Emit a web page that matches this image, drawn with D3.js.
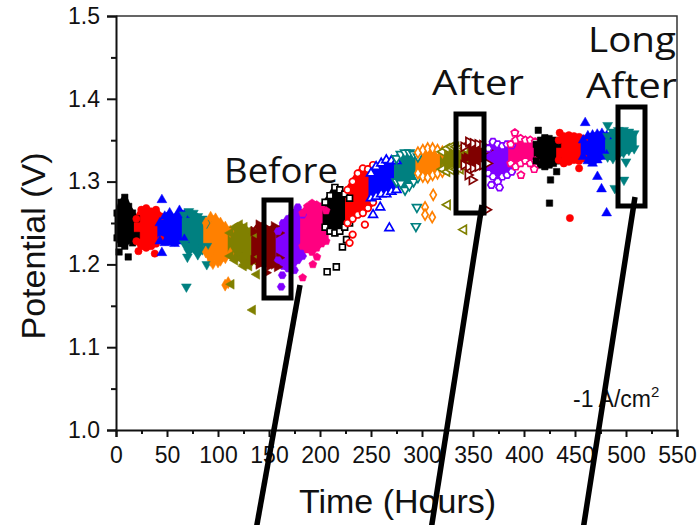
<!DOCTYPE html>
<html>
<head>
<meta charset="utf-8">
<script src="https://cdn.jsdelivr.net/npm/d3@7"></script>
<style>
  html, body { margin: 0; padding: 0; background: #fff; }
  svg { display: block; }
</style>
</head>
<body>
<div id="chart-mount"></div>
<script>
var WIDTH = 697;
var HEIGHT = 525;

// one series per recording segment
var seriesColor = [
  '#000000', '#ff0000', '#0000ff', '#008080', '#ff8000', '#808000', '#800000', '#8000ff', '#ff0080',
  '#000000', '#ff0000', '#0000ff', '#008080', '#ff8000', '#808000', '#800000', '#8000ff', '#ff0080',
  '#000000', '#ff0000', '#0000ff', '#008080'
];
var seriesShape = [
  'square', 'circle', 'up', 'down', 'diamond', 'left', 'right', 'hexagon', 'pentagon',
  'square', 'circle', 'up', 'down', 'diamond', 'left', 'right', 'hexagon', 'pentagon',
  'square', 'circle', 'up', 'down'
];
var seriesHollow = [
  false, false, false, false, false, false, false, false, false,
  true, true, true, true, true, true, true, true, true,
  false, false, false, false
];
var seriesStart = [1, 20, 43, 67, 88, 112, 135, 159, 183, 205, 227, 250, 275, 296, 320, 341, 365, 387, 412, 434, 458, 482];
var seriesEnd = [20, 44, 67, 89, 112, 135, 160, 183, 206, 229, 252, 275, 296, 320, 342, 364, 388, 411, 433, 459, 481, 508];

// upper / lower edge of each cluster at 6 evenly spaced times
var bandHigh = [
  [1.262, 1.275, 1.281, 1.270, 1.262, 1.255],
  [1.255, 1.266, 1.268, 1.264, 1.266, 1.258],
  [1.250, 1.258, 1.262, 1.255, 1.265, 1.260],
  [1.260, 1.264, 1.262, 1.258, 1.255, 1.250],
  [1.250, 1.257, 1.255, 1.250, 1.245, 1.240],
  [1.238, 1.245, 1.248, 1.245, 1.240, 1.238],
  [1.240, 1.248, 1.245, 1.242, 1.246, 1.238],
  [1.240, 1.250, 1.255, 1.262, 1.269, 1.260],
  [1.262, 1.270, 1.274, 1.272, 1.270, 1.265],
  [1.275, 1.283, 1.293, 1.290, 1.285, 1.280],
  [1.290, 1.300, 1.310, 1.316, 1.315, 1.320],
  [1.310, 1.318, 1.322, 1.326, 1.325, 1.325],
  [1.328, 1.333, 1.335, 1.335, 1.333, 1.330],
  [1.335, 1.338, 1.340, 1.340, 1.338, 1.336],
  [1.336, 1.340, 1.342, 1.342, 1.340, 1.340],
  [1.342, 1.348, 1.346, 1.345, 1.344, 1.338],
  [1.340, 1.348, 1.345, 1.343, 1.345, 1.344],
  [1.345, 1.350, 1.352, 1.350, 1.350, 1.348],
  [1.345, 1.350, 1.353, 1.352, 1.350, 1.345],
  [1.350, 1.355, 1.356, 1.355, 1.354, 1.352],
  [1.350, 1.355, 1.356, 1.357, 1.358, 1.355],
  [1.355, 1.360, 1.362, 1.362, 1.360, 1.358]
];
var bandLow = [
  [1.232, 1.225, 1.222, 1.230, 1.226, 1.235],
  [1.228, 1.222, 1.220, 1.222, 1.225, 1.230],
  [1.228, 1.226, 1.227, 1.225, 1.228, 1.230],
  [1.225, 1.215, 1.220, 1.212, 1.218, 1.222],
  [1.215, 1.205, 1.210, 1.205, 1.208, 1.213],
  [1.210, 1.205, 1.208, 1.200, 1.198, 1.205],
  [1.205, 1.200, 1.203, 1.198, 1.200, 1.208],
  [1.205, 1.198, 1.195, 1.200, 1.205, 1.210],
  [1.222, 1.218, 1.215, 1.220, 1.225, 1.228],
  [1.245, 1.240, 1.238, 1.240, 1.245, 1.250],
  [1.250, 1.255, 1.260, 1.262, 1.268, 1.275],
  [1.280, 1.282, 1.285, 1.285, 1.288, 1.290],
  [1.300, 1.298, 1.290, 1.295, 1.300, 1.305],
  [1.310, 1.306, 1.305, 1.308, 1.310, 1.312],
  [1.315, 1.312, 1.314, 1.315, 1.315, 1.318],
  [1.320, 1.318, 1.316, 1.318, 1.320, 1.322],
  [1.310, 1.306, 1.300, 1.306, 1.308, 1.312],
  [1.322, 1.318, 1.322, 1.325, 1.322, 1.325],
  [1.325, 1.320, 1.318, 1.320, 1.322, 1.325],
  [1.326, 1.322, 1.324, 1.326, 1.325, 1.328],
  [1.330, 1.325, 1.322, 1.326, 1.330, 1.332],
  [1.330, 1.328, 1.332, 1.335, 1.338, 1.340]
];

// stray points: [series, hours, volts]
var outliers = [
  [0, 3, 1.215], [0, 12, 1.209],
  [1, 22, 1.216], [1, 38, 1.213],
  [2, 45, 1.278], [2, 45, 1.214],
  [3, 70, 1.209], [3, 89, 1.200], [3, 69, 1.173],
  [4, 95, 1.201], [4, 100, 1.203], [4, 107, 1.175], [4, 110, 1.178],
  [5, 125, 1.198], [5, 138, 1.188], [5, 113, 1.176], [5, 134, 1.145],
  [6, 158, 1.197], [6, 147, 1.190],
  [7, 163, 1.187], [7, 162, 1.173], [7, 175, 1.193],
  [8, 197, 1.209], [8, 183, 1.184], [8, 193, 1.200],
  [9, 222, 1.221], [9, 207, 1.191], [9, 216, 1.197], [9, 226, 1.230],
  [10, 244, 1.248], [10, 229, 1.226], [10, 232, 1.236],
  [11, 259, 1.269], [11, 252, 1.260], [11, 268, 1.244],
  [12, 295, 1.269], [12, 294, 1.246],
  [13, 311, 1.284], [13, 303, 1.269], [13, 303, 1.260], [13, 310, 1.257],
  [14, 325, 1.272], [14, 341, 1.242],
  [15, 349, 1.302], [15, 363, 1.266], [15, 345, 1.308],
  [16, 376, 1.293], [16, 368, 1.296],
  [17, 391, 1.359], [17, 397, 1.308], [17, 410, 1.315],
  [18, 414, 1.362], [18, 426, 1.302], [18, 425, 1.274], [18, 432, 1.312],
  [19, 445, 1.256], [19, 435, 1.359], [19, 454, 1.316],
  [20, 460, 1.371], [20, 472, 1.306], [20, 476, 1.291], [20, 481, 1.262],
  [21, 482, 1.368], [21, 500, 1.324], [21, 498, 1.302], [21, 489, 1.292]
];

var xTicks = [0, 50, 100, 150, 200, 250, 300, 350, 400, 450, 500, 550];
var yTicks = [1.0, 1.1, 1.2, 1.3, 1.4, 1.5];

var margin = { left: 116, right: 20, top: 16, bottom: 95 };

var $svg = d3.select('#chart-mount').append('svg')
  .attr('width', WIDTH)
  .attr('height', HEIGHT);

var x = d3.scaleLinear().domain([0, 550]).range([margin.left, WIDTH - margin.right]);
var y = d3.scaleLinear().domain([1.0, 1.5]).range([HEIGHT - margin.bottom, margin.top]);

function polygonSymbol (n, rot) {
  return {
    draw: function (context, size) {
      var r = Math.sqrt(size / (0.5 * n * Math.sin(2 * Math.PI / n)));
      for (var i = 0; i < n; i++) {
        var a = rot + i * 2 * Math.PI / n;
        var px = r * Math.sin(a), py = -r * Math.cos(a);
        if (i === 0) context.moveTo(px, py); else context.lineTo(px, py);
      }
      context.closePath();
    }
  };
}

var SHAPES = {
  square: { type: d3.symbolSquare, rotate: 0 },
  circle: { type: d3.symbolCircle, rotate: 0 },
  up: { type: d3.symbolTriangle, rotate: 0 },
  down: { type: d3.symbolTriangle, rotate: 180 },
  diamond: { type: d3.symbolDiamond, rotate: 0 },
  left: { type: d3.symbolTriangle, rotate: -90 },
  right: { type: d3.symbolTriangle, rotate: 90 },
  hexagon: { type: polygonSymbol(6, Math.PI / 6), rotate: 0 },
  pentagon: { type: polygonSymbol(5, 0), rotate: 0 }
};

function sampleTimes (i) {
  var t0 = seriesStart[i], t1 = seriesEnd[i];
  return bandHigh[i].map(function (d, k) { return t0 + k * (t1 - t0) / (bandHigh[i].length - 1); });
}

// build point lists per series
var bands = seriesColor.map(function (c, i) {
  var times = sampleTimes(i);
  return times.map(function (t, k) { return { t: t, lo: bandLow[i][k], hi: bandHigh[i][k] }; });
});

var points = [];
seriesColor.forEach(function (c, i) {
  bands[i].forEach(function (d) {
    points.push({ s: i, t: d.t, v: d.hi });
    points.push({ s: i, t: d.t, v: d.lo });
  });
});
outliers.forEach(function (o) { points.push({ s: o[0], t: o[1], v: o[2] }); });

// clusters
var area = d3.area()
  .x(function (d) { return x(d.t); })
  .y0(function (d) { return y(d.lo); })
  .y1(function (d) { return y(d.hi); });

$svg.append('g')
  .selectAll('path')
  .data(bands)
  .enter()
    .append('path')
    .attr('d', area)
    .attr('fill', function (d, i) { return seriesColor[i]; })
    .attr('stroke', function (d, i) { return seriesColor[i]; })
    .attr('stroke-width', 5)
    .attr('stroke-linejoin', 'round');

$svg.append('g')
  .selectAll('path')
  .data(points)
  .enter()
    .append('path')
    .attr('d', function (d) {
      var sh = SHAPES[seriesShape[d.s]];
      return d3.symbol().type(sh.type).size(seriesHollow[d.s] ? 34 : 42)();
    })
    .attr('transform', function (d) {
      return 'translate(' + x(d.t) + ',' + y(d.v) + ') rotate(' + SHAPES[seriesShape[d.s]].rotate + ')';
    })
    .attr('fill', function (d) { return seriesHollow[d.s] ? '#fff' : seriesColor[d.s]; })
    .attr('stroke', function (d) { return seriesColor[d.s]; })
    .attr('stroke-width', function (d) { return seriesHollow[d.s] ? 1.7 : 0.5; });

// frame
$svg.append('path')
  .attr('d', 'M' + x(0) + ',' + y(1.5) + 'H' + x(550) + 'V' + y(1.0))
  .attr('fill', 'none')
  .attr('stroke', '#333')
  .attr('stroke-width', 1.5);

// axes
$svg.append('g')
  .attr('transform', 'translate(' + x(0) + ',0)')
  .call(d3.axisLeft(y).tickValues(yTicks).tickFormat(d3.format('.1f')).tickSize(9).tickPadding(7));
$svg.append('g')
  .attr('transform', 'translate(' + x(0) + ',0)')
  .call(d3.axisLeft(y).tickValues([1.05, 1.15, 1.25, 1.35, 1.45]).tickFormat('').tickSize(5))
  .select('.domain').remove();

$svg.append('g')
  .attr('transform', 'translate(0,' + y(1.0) + ')')
  .call(d3.axisBottom(x).tickValues(xTicks).tickFormat(d3.format('d')).tickSize(7).tickPadding(10));
$svg.append('g')
  .attr('transform', 'translate(0,' + y(1.0) + ')')
  .call(d3.axisBottom(x).tickValues(d3.range(25, 550, 50)).tickFormat('').tickSize(4))
  .select('.domain').remove();

$svg.selectAll('.domain, .tick line')
  .attr('stroke', '#111')
  .attr('stroke-width', 2);
$svg.selectAll('.tick text')
  .attr('fill', '#111')
  .style('font-family', '"Liberation Sans", Arial, sans-serif')
  .style('font-size', '23px');

// axis titles
$svg.append('text')
  .attr('x', (x(0) + x(550)) / 2 + 1)
  .attr('y', 513)
  .attr('text-anchor', 'middle')
  .attr('fill', '#111')
  .style('font-family', '"Liberation Sans", Arial, sans-serif')
  .style('font-size', '34px')
  .text('Time (Hours)');

$svg.append('text')
  .attr('transform', 'translate(45,246) rotate(-90)')
  .attr('text-anchor', 'middle')
  .attr('fill', '#111')
  .style('font-family', '"Liberation Sans", Arial, sans-serif')
  .style('font-size', '34px')
  .text('Potential (V)');

$svg.append('text')
  .attr('x', 573)
  .attr('y', 407)
  .attr('fill', '#111')
  .style('font-family', '"Liberation Sans", Arial, sans-serif')
  .style('font-size', '23px')
  .html('-1 A/cm<tspan dy="-10" font-size="15px">2</tspan>');

// annotations (wider glyphs than Open Sans in the original, so stretch a bit)
var notes = $svg.append('g')
  .attr('fill', '#111')
  .style('font-family', '"Open Sans", "Noto Sans", sans-serif')
  .style('font-size', '35px');
var labels = [['Before', 224, 183, 114], ['After', 432, 95, 92], ['Long', 588, 52, 88], ['After', 586, 98, 91]];
labels.forEach(function (l) {
  notes.append('text')
    .attr('x', l[1])
    .attr('y', l[2])
    .attr('textLength', l[3])
    .attr('lengthAdjust', 'spacingAndGlyphs')
    .text(l[0]);
});

var boxes = [[264, 200, 27, 98], [456, 114, 28, 99], [618, 107, 27, 99]];
$svg.append('g')
  .selectAll('rect')
  .data(boxes)
  .enter()
    .append('rect')
    .attr('x', function (d) { return d[0]; })
    .attr('y', function (d) { return d[1]; })
    .attr('width', function (d) { return d[2]; })
    .attr('height', function (d) { return d[3]; })
    .attr('fill', 'none')
    .attr('stroke', '#000')
    .attr('stroke-width', 5);

var pointers = [[300, 285, 256, 530], [482, 205, 431, 530], [635, 197, 583, 530]];
$svg.append('g')
  .selectAll('line')
  .data(pointers)
  .enter()
    .append('line')
    .attr('x1', function (d) { return d[0]; })
    .attr('y1', function (d) { return d[1]; })
    .attr('x2', function (d) { return d[2]; })
    .attr('y2', function (d) { return d[3]; })
    .attr('stroke', '#000')
    .attr('stroke-width', 5.5);
</script>
</body>
</html>
